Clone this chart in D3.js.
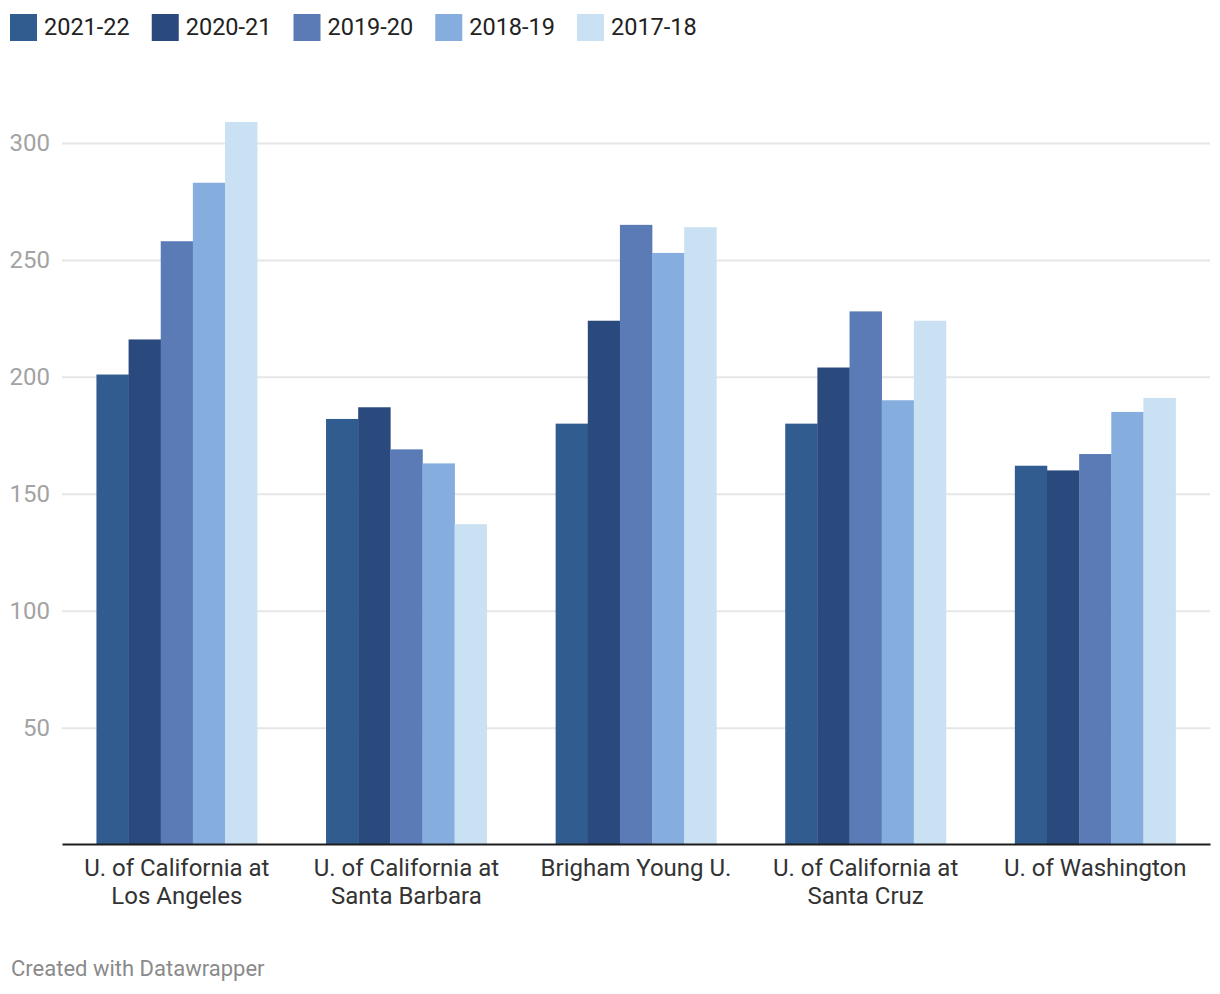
<!DOCTYPE html>
<html>
<head>
<meta charset="utf-8">
<script src="https://cdn.jsdelivr.net/npm/d3@7"></script>
<style>
  html, body { margin: 0; padding: 0; background: #fff; }
  svg { display: block; font-family: Roboto, "Noto Sans", sans-serif; }
</style>
</head>
<body>
<svg id="chart" width="1220" height="994"></svg>
<script>
const categories = [
  "U. of California at Los Angeles",
  "U. of California at Santa Barbara",
  "Brigham Young U.",
  "U. of California at Santa Cruz",
  "U. of Washington"
];
const seriesNames = ["2021-22", "2020-21", "2019-20", "2018-19", "2017-18"];
const values2021_22 = [201, 182, 180, 180, 162];
const values2020_21 = [216, 187, 224, 204, 160];
const values2019_20 = [258, 169, 265, 228, 167];
const values2018_19 = [283, 163, 253, 190, 185];
const values2017_18 = [309, 137, 264, 224, 191];
const yTicks = [50, 100, 150, 200, 250, 300];
const colors = ["#305c90", "#2a4a7e", "#5b7bb7", "#85aedf", "#c9e1f2"];

const seriesValues = [values2021_22, values2020_21, values2019_20, values2018_19, values2017_18];
const data = categories.map((c, i) => ({
  category: c,
  values: seriesNames.map((s, j) => ({ key: s, value: seriesValues[j][i] }))
}));

const svg = d3.select("#chart");
const left = 62, right = 1210, baseY = 844.6, topY = 143;

const x = d3.scaleBand().domain(categories).range([left, right])
  .paddingInner(0.3).paddingOuter(0.15);
const xi = d3.scaleBand().domain(seriesNames).range([0, x.bandwidth()]).padding(0);
const y = d3.scaleLinear().domain([0, 300]).range([baseY, topY]);
const color = d3.scaleOrdinal().domain(seriesNames).range(colors);

// Legend
const legend = svg.append("g").attr("class", "legend");
let lx = 10;
seriesNames.forEach(s => {
  const g = legend.append("g").attr("transform", `translate(${lx},0)`);
  g.append("rect").attr("x", 0).attr("y", 14).attr("width", 27).attr("height", 27)
    .attr("fill", color(s));
  const t = g.append("text").attr("x", 34).attr("y", 35)
    .attr("font-size", 23.5).attr("fill", "#222").text(s);
  lx += 34 + t.node().getComputedTextLength() + 22;
});

// Y axis with gridlines
const yAxis = svg.append("g")
  .attr("transform", `translate(${left},0)`)
  .call(d3.axisLeft(y).tickValues(yTicks).tickSize(-(right - left)).tickPadding(12));
yAxis.select(".domain").remove();
yAxis.selectAll(".tick line").attr("stroke", "#e6e6e6").attr("stroke-width", 2);
yAxis.selectAll(".tick text").attr("font-size", 24).attr("fill", "#a3a3a3")
  .attr("font-family", "Roboto, sans-serif");

// Bars
const groups = svg.append("g").selectAll("g").data(data).join("g")
  .attr("transform", d => `translate(${x(d.category)},0)`);
groups.selectAll("rect").data(d => d.values).join("rect")
  .attr("x", d => xi(d.key))
  .attr("y", d => y(d.value))
  .attr("width", xi.bandwidth() + 0.3)
  .attr("height", d => y(0) - y(d.value))
  .attr("fill", d => color(d.key));

// X axis
const xAxis = svg.append("g")
  .attr("transform", `translate(0,${baseY - 0.6})`)
  .call(d3.axisBottom(x).tickSize(0).tickSizeOuter(0).tickPadding(0));
xAxis.select(".domain").attr("stroke", "#1d1d1d").attr("stroke-width", 2);
xAxis.selectAll(".tick text").attr("font-size", 24).attr("fill", "#333")
  .attr("font-family", "Roboto, sans-serif")
  .attr("dy", null).attr("y", 0)
  .each(function(d) {
    const text = d3.select(this);
    const words = d.split(" ");
    text.text(null);
    let line = [];
    let lineNo = 0;
    let tspan = text.append("tspan").attr("x", 0).attr("y", 32 + lineNo * 28);
    words.forEach(w => {
      line.push(w);
      tspan.text(line.join(" "));
      if (tspan.node().getComputedTextLength() > 205 && line.length > 1) {
        line.pop();
        tspan.text(line.join(" "));
        line = [w];
        lineNo++;
        tspan = text.append("tspan").attr("x", 0).attr("y", 32 + lineNo * 28).text(w);
      }
    });
  });

// Footer
svg.append("text").attr("x", 11).attr("y", 976)
  .attr("font-size", 22).attr("fill", "#8a8a8a")
  .text("Created with Datawrapper");
</script>
</body>
</html>
